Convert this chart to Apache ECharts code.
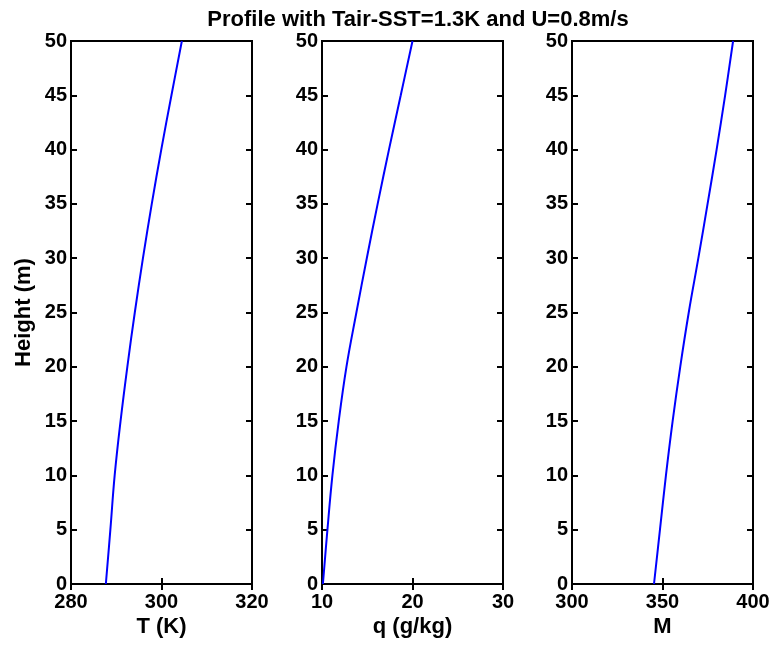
<!DOCTYPE html>
<html>
<head>
<meta charset="utf-8">
<script src="https://cdn.jsdelivr.net/npm/echarts@6/dist/echarts.min.js"></script>
<style>
  html, body { margin: 0; padding: 0; background: #fff; }
  #chart { width: 773px; height: 645px; }
</style>
</head>
<body>
<div id="chart"></div>
<script>
// Heights (m) at which the profiles are sampled
const heights = [0, 5, 10, 15, 20, 25, 30, 35, 40, 45, 50];
// Air temperature T (K)
const tempK = [287.7, 288.7, 289.65, 290.95, 292.45, 294.1, 295.9, 297.85, 299.95, 302.2, 304.5];
// Specific humidity q (g/kg)
const humidity = [10.1, 10.6, 11.15, 11.85, 12.7, 13.8, 14.95, 16.15, 17.4, 18.7, 20.0];
// Modified refractivity M
const refractivity = [345.3, 348.6, 351.9, 355.6, 359.8, 364.5, 369.8, 374.9, 379.9, 384.6, 389.0];

const panels = [
  { name: 'T (K)', min: 280, max: 320, interval: 20, values: tempK, left: 71 },
  { name: 'q (g/kg)', min: 10, max: 30, interval: 10, values: humidity, left: 322 },
  { name: 'M', min: 300, max: 400, interval: 50, values: refractivity, left: 572 }
];

const FONT = '"Liberation Sans", Arial, sans-serif';
const tickLabelStyle = { color: '#000', fontFamily: FONT, fontWeight: 'bold', fontSize: 20 };
const nameStyle = { color: '#000', fontFamily: FONT, fontWeight: 'bold', fontSize: 22 };
const tickStyle = { show: true, inside: true, length: 6, lineStyle: { color: '#000', width: 2 } };
const frameLine = { show: true, lineStyle: { color: '#000', width: 2 } };

const grid = [], xAxis = [], yAxis = [], series = [];
panels.forEach((p, i) => {
  grid.push({ left: p.left, top: 41, width: 181, height: 543, show: true,
              borderColor: '#000', borderWidth: 2, backgroundColor: '#fff' });
  // bottom x axis with labels
  xAxis.push({ gridIndex: i, type: 'value', min: p.min, max: p.max, interval: p.interval,
    position: 'bottom', name: p.name, nameLocation: 'middle', nameGap: 32,
    nameMoveOverlap: false, nameTextStyle: nameStyle,
    axisLine: frameLine, axisTick: tickStyle, splitLine: { show: false },
    axisLabel: Object.assign({ margin: 8, hideOverlap: false }, tickLabelStyle) });
  // top x axis: ticks only
  xAxis.push({ gridIndex: i, type: 'value', min: p.min, max: p.max, interval: p.interval,
    position: 'top', axisLine: frameLine, axisTick: tickStyle,
    axisLabel: { show: false }, splitLine: { show: false } });
  // left y axis with labels
  yAxis.push({ gridIndex: i, type: 'value', min: 0, max: 50, interval: 5,
    position: 'left',
    name: i === 0 ? 'Height (m)' : '', nameLocation: 'middle', nameGap: 36,
    nameMoveOverlap: false, nameTextStyle: nameStyle,
    axisLine: frameLine, axisTick: tickStyle, splitLine: { show: false },
    axisLabel: Object.assign({ margin: 4, hideOverlap: false }, tickLabelStyle) });
  // right y axis: ticks only
  yAxis.push({ gridIndex: i, type: 'value', min: 0, max: 50, interval: 5,
    position: 'right', axisLine: frameLine, axisTick: tickStyle,
    axisLabel: { show: false }, splitLine: { show: false } });

  series.push({
    type: 'line', xAxisIndex: 2 * i, yAxisIndex: 2 * i,
    data: heights.map((h, k) => [p.values[k], h]),
    showSymbol: false, smooth: 0.4,
    lineStyle: { color: '#0000ff', width: 2 },
    animation: false
  });
});

const chart = echarts.init(document.getElementById('chart'));
chart.setOption({
  animation: false,
  backgroundColor: '#fff',
  title: {
    text: 'Profile with Tair-SST=1.3K and U=0.8m/s',
    left: 413, top: 4, textAlign: 'center',
    textStyle: { color: '#000', fontFamily: FONT, fontWeight: 'bold', fontSize: 22 }
  },
  grid, xAxis, yAxis, series
});
</script>
</body>
</html>
